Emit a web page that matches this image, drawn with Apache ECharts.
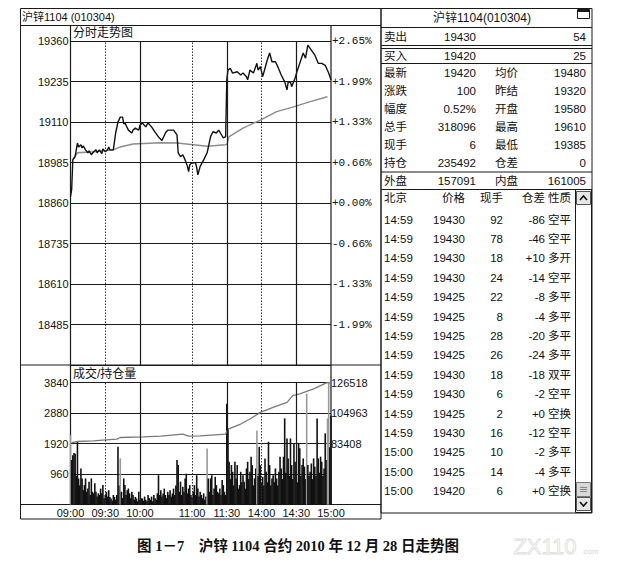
<!DOCTYPE html>
<html><head><meta charset="utf-8">
<script src="https://cdn.jsdelivr.net/npm/echarts@6/dist/echarts.min.js"></script>
<style>html,body{margin:0;padding:0;background:#fff;}#c{width:634px;height:565px;}</style>
</head><body><div id="c"></div>
<script>
// ---------------- data ----------------
const prevSettle = 18860;            // 0.00% reference price
const priceStep = 125;
const priceLeftLabels  = ['', '18485', '18610', '18735', '18860', '18985', '19110', '19235', '19360'];
const priceRightLabels = ['', '-1.99%', '-1.33%', '-0.66%', '+0.00%', '+0.66%', '+1.33%', '+1.99%', '+2.65%'];

const timeTickMinutes = [0, 30, 60, 105, 135, 165, 195, 225];
const timeTickLabels  = ['09:00', '09:30', '10:00', '11:00', '11:30', '14:00', '14:30', '15:00'];
const solidGridMinutes  = [60, 135, 195];
const dottedGridMinutes = [30, 105, 165];

const priceMinutes = [0,1,2,4,6,7,9,10,11,13,15,16,18,20,22,23,25,27,28,30,32,33,34,37,39,41,43,45,46,47,50,53,54,56,59,60,62,65,67,70,73,76,79,82,84,89,92,93,95,97,99,101,102,103,105,108,109,110,112,115,118,121,123,126,128,130,132,134,135,136,138,140,144,147,149,152,153,155,158,161,162,164,166,170,172,174,177,179,182,185,187,188,190,191,194,196,198,201,203,205,208,211,214,217,220,223,225];
const priceValues = [18880,18901,18993,19003,19045,19033,19040,19030,19036,19024,19015,19021,19009,19018,19024,19015,19024,19012,19027,19018,19024,19033,19024,19024,19076,19110,19125,19125,19104,19107,19085,19076,19085,19091,19085,19100,19107,19095,19107,19095,19079,19064,19053,19076,19085,19085,19070,19015,19003,19009,18993,18973,18957,18978,18984,18984,18969,18947,18973,18993,19015,19065,19080,19076,19085,19073,19061,19065,19240,19270,19276,19261,19265,19255,19261,19250,19240,19270,19261,19291,19270,19281,19250,19302,19323,19296,19296,19281,19255,19234,19209,19233,19234,19219,19246,19270,19291,19323,19307,19347,19332,19317,19291,19291,19285,19261,19240];

const avgMinutes = [2,6,20,37,43,54,78,92,106,118,134,135,137,149,164,178,192,207,222];
const avgValues  = [18995,19015,19018,19024,19033,19042,19046,19045,19040,19035,19040,19041,19065,19091,19116,19142,19156,19173,19188];

const volLeftLabels = ['', '960', '1920', '2880', '3840'];
const volStep = 960;
const volumes = [2180,1400,1550,1620,1600,900,1975,820,600,1130,820,450,610,820,400,500,720,300,820,400,
350,670,400,250,350,300,500,350,610,200,300,400,250,450,240,190,120,300,240,150,
300,1815,600,1450,400,200,820,610,300,450,500,350,200,400,300,150,240,190,100,400,
150,200,190,120,250,150,100,300,200,150,250,100,300,200,150,350,920,300,450,250,
350,500,300,200,400,300,450,250,350,500,300,600,1400,1240,400,720,300,560,400,820,
970,350,500,610,300,240,400,610,300,920,500,250,400,300,200,350,150,250,1765,820,
400,820,920,300,500,870,610,400,350,500,300,770,610,400,300,3170,2400,1345,800,1240,
1030,600,1345,820,1240,500,610,1030,700,920,720,500,1135,1345,800,1030,1505,1240,600,820,
1135,2330,900,1815,1240,700,870,600,1450,1030,700,1975,1240,600,820,920,700,1135,820,600,
1030,1505,1135,800,1505,2710,1000,2080,1450,900,2080,1240,800,1925,1345,1030,700,1925,1770,900,
1240,1450,1190,800,3490,1240,900,1030,1290,800,1450,1190,900,2710,1450,1000,1505,1345,900,1135,
2240,1400,2710,3850,1800,2800];
const grayVolumeMinutes = [0, 43, 118, 161, 204, 222, 223];

const oiAxisMin = 40298;
const oiStep = 21555;
const oiRightLabels = ['', '', '83408', '104963', '126518'];
const oiMinutes = [1,6,20,28,40,43,63,78,97,102,112,134,136,147,155,164,175,187,192,198,210,221,225];
const oiValues  = [84000,84826,85322,85819,86528,87662,88158,88655,90073,88655,88867,90073,93618,97163,100708,105387,108932,112477,117227,118432,121977,126200,126518];

// quote table
const leftTitle = '沪锌1104 (010304)';
const quoteTitle = '沪锌1104(010304)';
const bookRows = [['卖出', '19430', '54'], ['买入', '19420', '25']];
const statRows = [
  ['最新', '19420', '均价', '19480'],
  ['涨跌', '100', '昨结', '19320'],
  ['幅度', '0.52%', '开盘', '19580'],
  ['总手', '318096', '最高', '19610'],
  ['现手', '6', '最低', '19385'],
  ['持仓', '235492', '仓差', '0']
];
const outInRow = ['外盘', '157091', '内盘', '161005'];
const tickHeader = ['北京', '价格', '现手', '仓差', '性质'];
const tickTimes  = ['14:59','14:59','14:59','14:59','14:59','14:59','14:59','14:59','14:59','14:59','14:59','14:59','15:00','15:00','15:00'];
const tickPrices = ['19430','19430','19430','19430','19425','19425','19425','19425','19430','19430','19425','19430','19425','19425','19420'];
const tickVols   = ['92','78','18','24','22','8','28','26','18','6','2','16','10','14','6'];
const tickOIDiff = ['-86','-46','+10','-14','-8','-4','-20','-24','-18','-2','+0','-12','-2','-4','+0'];
const tickNature = ['空平','空平','多开','空平','多平','多平','多平','多平','双平','空平','空换','空平','多平','多平','空换'];

const panelTitle1 = '分时走势图';
const panelTitle2 = '成交/持仓量';
const caption = '图 1－7　沪锌 1104 合约 2010 年 12 月 28 日走势图';

// ---------------- chart ----------------
const FONT = '"Liberation Sans","Noto Sans CJK SC",sans-serif';
const INK = '#1a1a1a';
const chart = echarts.init(document.getElementById('c'), null, {renderer: 'svg', width: 634, height: 565});

const priceData = priceMinutes.map((m, i) => [m, priceValues[i] - prevSettle]);
const avgData = avgMinutes.map((m, i) => [m, avgValues[i] - prevSettle]);
const volData = volumes.map((v, m) => ({
  value: [m, v],
  itemStyle: {color: grayVolumeMinutes.indexOf(m) >= 0 ? '#9a9a9a' : '#111'}
}));
const oiData = oiMinutes.map((m, i) => [m, oiValues[i] - oiAxisMin]);

function vLines() {
  return solidGridMinutes.map(m => ({xAxis: m, lineStyle: {type: 'solid', color: INK, width: 1.2}}))
    .concat(dottedGridMinutes.map(m => ({xAxis: m, lineStyle: {type: [1.5, 1.5], color: '#333', width: 1}})));
}
const vMark = () => ({silent: true, symbol: 'none', label: {show: false}, animation: false, data: vLines()});

// graphics (frame, titles, table)
const g = [];
function L(x1, y1, x2, y2, w, c) { g.push({type: 'line', silent: true, shape: {x1, y1, x2, y2}, style: {stroke: c || INK, lineWidth: w || 1}}); }
function R(x, y, w, h, fill, stroke) { g.push({type: 'rect', silent: true, shape: {x, y, width: w, height: h}, style: {fill: fill || 'none', stroke: stroke || INK, lineWidth: 1}}); }
function T(t, x, y, align, font, fill) {
  g.push({type: 'text', silent: true, x: x, y: y,
    style: {text: t, x: 0, y: 0, align: align, textAlign: align, verticalAlign: 'middle', textVerticalAlign: 'middle', font: font, fill: fill || '#111'}});
}
// left panel frame
R(20.5, 8.5, 360.5, 510.5);
L(20.5, 25.5, 381, 25.5);
L(20.5, 365, 381, 365);
L(20.5, 504.5, 381, 504.5);
L(70.5, 25.5, 70.5, 504.5, 1.2);
L(331, 25.5, 331, 504.5, 1.2);
T(leftTitle, 22, 17, 'left', '11px ' + FONT);
T(panelTitle1, 73, 33, 'left', '12px ' + FONT);
T(panelTitle2, 73, 373.5, 'left', '12px ' + FONT);

// right table frame
const TX0 = 381, TX1 = 592;
R(TX0, 8.5, TX1 - TX0, 504.5);
[27.5, 45.5, 48.5, 63.5, 172, 189.5].forEach(y => L(TX0, y, TX1, y));
T(quoteTitle, 482, 17.5, 'center', '12px ' + FONT);
R(577.5, 9.5, 12, 9, '#fff');
L(578, 11, 589, 11, 2);
const F12 = '11.5px ' + FONT;
bookRows.forEach((r, i) => {
  const y = [36.5, 55.5][i];
  T(r[0], 384, y, 'left', F12);
  T(r[1], 476, y, 'right', F12);
  T(r[2], 586, y, 'right', F12);
});
statRows.forEach((r, i) => {
  const y = 72.7 + i * 18;
  T(r[0], 384, y, 'left', F12);
  T(r[1], 476, y, 'right', F12);
  T(r[2], 495, y, 'left', F12);
  T(r[3], 586, y, 'right', F12);
});
T(outInRow[0], 384, 181, 'left', F12);
T(outInRow[1], 476, 181, 'right', F12);
T(outInRow[2], 495, 181, 'left', F12);
T(outInRow[3], 586, 181, 'right', F12);
// tick list
const colX = [384, 465, 503, 545, 548];
const colA = ['left', 'right', 'right', 'right', 'left'];
tickHeader.forEach((h, j) => T(h, colX[j], 198, colA[j], F12));
tickTimes.forEach((t, i) => {
  const y = 219.5 + i * 19.4;
  const row = [t, tickPrices[i], tickVols[i], tickOIDiff[i], tickNature[i]];
  row.forEach((c, j) => T(c, colX[j], y, colA[j], F12));
});
// scrollbar
R(575.5, 189.5, 16, 323);
R(576.5, 191.5, 14, 13, '#e6e6e6', '#555');
g.push({type: 'polyline', silent: true, shape: {points: [[580, 200], [583.5, 196], [587, 200]]}, style: {stroke: '#111', lineWidth: 1.6, fill: 'none'}});
R(576.5, 482.5, 14, 14, '#d8d8d8', '#777');
L(580, 487.5, 587, 487.5, 1, '#888'); L(580, 489.5, 587, 489.5, 1, '#888'); L(580, 491.5, 587, 491.5, 1, '#888');
R(576.5, 497.5, 14, 13, '#e6e6e6', '#555');
g.push({type: 'polyline', silent: true, shape: {points: [[580, 502], [583.5, 506], [587, 502]]}, style: {stroke: '#111', lineWidth: 1.6, fill: 'none'}});
// caption + watermark
T(caption, 298, 546, 'center', 'bold 14.5px "Liberation Serif","Noto Sans CJK SC",serif', '#111');
T('ZX110', 545, 546, 'center', '22px "Liberation Sans",sans-serif', 'none');
g[g.length - 1].style.stroke = '#dcdcdc'; g[g.length - 1].style.lineWidth = 0.8;
T('.com', 590, 551, 'center', '8px "Liberation Sans",sans-serif', '#d5d5d5');

const axisLbl = {fontFamily: FONT, fontSize: 11, color: '#111'};
const option = {
  animation: false,
  backgroundColor: '#fff',
  textStyle: {fontFamily: FONT},
  grid: [
    {left: 70.5, top: 41, width: 260.5, height: 324, containLabel: false, outerBoundsMode: 'none', show: false},
    {left: 70.5, top: 382.5, width: 260.5, height: 122, containLabel: false, outerBoundsMode: 'none', show: false}
  ],
  xAxis: [
    {type: 'value', gridIndex: 0, min: 0, max: 225, interval: 15,
     axisLine: {show: false}, axisTick: {show: false}, axisLabel: {show: false}, splitLine: {show: false}},
    {type: 'value', gridIndex: 1, min: 0, max: 225, interval: 15,
     axisLine: {show: false}, axisTick: {show: false}, splitLine: {show: false},
     axisLabel: Object.assign({}, axisLbl, {margin: 3, showMinLabel: true, showMaxLabel: true, hideOverlap: false,
       formatter: v => { const k = timeTickMinutes.indexOf(Math.round(v)); return k >= 0 ? timeTickLabels[k] : ''; }})}
  ],
  yAxis: [
    {type: 'value', gridIndex: 0, position: 'left', min: -4 * priceStep, max: 4 * priceStep, interval: priceStep,
     axisLine: {show: false}, axisTick: {show: false},
     splitLine: {show: true, lineStyle: {color: INK, width: 1.2}},
     axisLabel: Object.assign({}, axisLbl, {margin: 2, showMinLabel: true, showMaxLabel: true,
       formatter: v => priceLeftLabels[Math.round(v / priceStep) + 4] || ''})},
    {type: 'value', gridIndex: 0, position: 'right', min: -4 * priceStep, max: 4 * priceStep, interval: priceStep,
     axisLine: {show: false}, axisTick: {show: false}, splitLine: {show: false},
     axisLabel: {fontFamily: '"Liberation Mono","DejaVu Sans Mono",monospace', fontSize: 11, color: '#111', margin: 1,
       showMinLabel: true, showMaxLabel: true,
       formatter: v => priceRightLabels[Math.round(v / priceStep) + 4] || ''}},
    {type: 'value', gridIndex: 1, position: 'left', min: 0, max: 4 * volStep, interval: volStep,
     axisLine: {show: false}, axisTick: {show: false},
     splitLine: {show: true, lineStyle: {color: INK, width: 1.2}},
     axisLabel: Object.assign({}, axisLbl, {margin: 2, showMaxLabel: true,
       formatter: v => volLeftLabels[Math.round(v / volStep)] || ''})},
    {type: 'value', gridIndex: 1, position: 'right', min: 0, max: 4 * oiStep, interval: oiStep,
     axisLine: {show: false}, axisTick: {show: false}, splitLine: {show: false},
     axisLabel: Object.assign({}, axisLbl, {margin: 0, showMaxLabel: true,
       formatter: v => oiRightLabels[Math.round(v / oiStep)] || ''})}
  ],
  series: [
    {name: 'vgrid1', type: 'line', xAxisIndex: 0, yAxisIndex: 0, data: [], markLine: vMark(), z: 1},
    {name: '均价', type: 'line', xAxisIndex: 0, yAxisIndex: 0, data: avgData, showSymbol: false, symbol: 'none',
     lineStyle: {color: '#8c8c8c', width: 1.4}, z: 3},
    {name: '价格', type: 'line', xAxisIndex: 0, yAxisIndex: 0, data: priceData, showSymbol: false, symbol: 'none',
     lineStyle: {color: '#111', width: 1.4}, z: 4},
    {name: 'vgrid2', type: 'line', xAxisIndex: 1, yAxisIndex: 2, data: [], markLine: vMark(), z: 1},
    {name: '成交量', type: 'bar', xAxisIndex: 1, yAxisIndex: 2, data: volData, barWidth: 1.6, z: 3},
    {name: '持仓量', type: 'line', xAxisIndex: 1, yAxisIndex: 3, data: oiData, showSymbol: false, symbol: 'none',
     lineStyle: {color: '#7a7a7a', width: 1.3}, z: 4}
  ],
  graphic: {elements: g}
};
chart.setOption(option);
</script>
</body></html>
